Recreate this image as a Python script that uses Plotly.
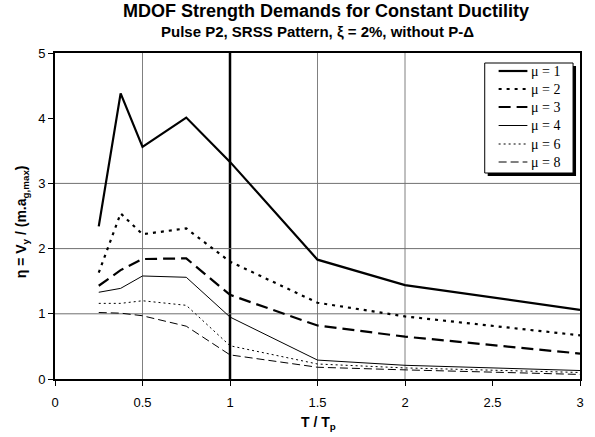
import plotly.graph_objects as go

T = [0.25, 0.375, 0.5, 0.75, 1.0, 1.5, 2.0, 3.0]
mu1 = [2.34, 4.38, 3.56, 4.01, 3.33, 1.83, 1.44, 1.06]
mu2 = [1.63, 2.54, 2.22, 2.31, 1.80, 1.17, 0.96, 0.67]
mu3 = [1.43, 1.67, 1.84, 1.85, 1.29, 0.82, 0.65, 0.39]
mu4 = [1.33, 1.39, 1.58, 1.56, 0.95, 0.29, 0.21, 0.13]
mu6 = [1.16, 1.16, 1.20, 1.13, 0.51, 0.23, 0.17, 0.10]
mu8 = [1.02, 1.01, 0.97, 0.81, 0.37, 0.18, 0.14, 0.07]
labels = ["μ = 1", "μ = 2", "μ = 3", "μ = 4", "μ = 6", "μ = 8"]
x_ticks = [0, 0.5, 1, 1.5, 2, 2.5, 3]
x_tick_text = ["0", "0.5", "1", "1.5", "2", "2.5", "3"]
y_ticks = [0, 1, 2, 3, 4, 5]
series = [mu1, mu2, mu3, mu4, mu6, mu8]
styles = [
    dict(width=2.2, dash="solid"),
    dict(width=2.2, dash="3px,5px"),
    dict(width=2.2, dash="12px,6px"),
    dict(width=1, dash="solid"),
    dict(width=1, dash="2px,3px"),
    dict(width=1, dash="8px,4px"),
]

# pixel -> paper helpers for plot area (x: 55..584, y: 53..379)
L, R, TOP, BOT = 55, 584, 53, 379
def px(p):
    return (p - L) / (R - L)
def py(p):
    return (BOT - p) / (BOT - TOP)

fig = go.Figure()
for lab, ys, st in zip(labels, series, styles):
    fig.add_trace(go.Scatter(x=T, y=ys, mode="lines", name=lab, showlegend=False,
                             line=dict(color="black", **st)))

shapes = []
for xv in [0.5, 1.5, 2.0]:
    shapes.append(dict(type="line", xref="x", yref="paper", x0=xv, x1=xv, y0=0, y1=1,
                       line=dict(color="#808080", width=1), layer="below"))
shapes.append(dict(type="line", xref="x", yref="paper", x0=1, x1=1, y0=0, y1=1,
                   line=dict(color="black", width=2.5), layer="below"))
for yv in [1, 2, 3]:
    shapes.append(dict(type="line", xref="paper", yref="y", x0=0, x1=1, y0=yv, y1=yv,
                       line=dict(color="#707070", width=1), layer="below"))

# manual legend: shadow, box, sample lines, labels
shapes.append(dict(type="rect", xref="paper", yref="paper",
                   x0=px(491), x1=px(580), y0=py(176), y1=py(66),
                   fillcolor="black", line=dict(width=0), layer="above"))
shapes.append(dict(type="rect", xref="paper", yref="paper",
                   x0=px(488), x1=px(577), y0=py(173), y1=py(63),
                   fillcolor="white", line=dict(color="black", width=1), layer="above"))
annotations = []
row_y = [71, 89, 107, 125.5, 144, 162]
for lab, st, ry in zip(labels, styles, row_y):
    shapes.append(dict(type="line", xref="paper", yref="paper",
                       x0=px(502), x1=px(531), y0=py(ry), y1=py(ry),
                       line=dict(color="black", **st), layer="above"))
    annotations.append(dict(text=lab, xref="paper", yref="paper", x=px(533), y=py(ry),
                            showarrow=False, xanchor="left", yanchor="middle",
                            font=dict(family="Liberation Serif, Times New Roman", size=14, color="black")))

annotations += [
    dict(text="<b>MDOF Strength Demands for Constant Ductility</b>", xref="paper", yref="paper",
         x=px(328), y=py(11), showarrow=False, xanchor="center", yanchor="middle",
         font=dict(size=18, family="Liberation Sans, Arial", color="black")),
    dict(text="<b>Pulse P2, SRSS Pattern, ξ = 2%, without P-Δ</b>", xref="paper", yref="paper",
         x=px(320), y=py(31.5), showarrow=False, xanchor="center", yanchor="middle",
         font=dict(size=15, family="Liberation Sans, Arial", color="black")),
    dict(text="<b>η = V<sub>y</sub> / (m.a<sub>g,max</sub>)</b>", xref="paper", yref="paper",
         x=px(22), y=py(222), showarrow=False, xanchor="center", yanchor="middle", textangle=-90,
         font=dict(size=14, family="Liberation Sans, Arial", color="black")),
    dict(text="<b>T / T<sub>p</sub></b>", xref="paper", yref="paper",
         x=px(321), y=py(423), showarrow=False, xanchor="center", yanchor="middle",
         font=dict(size=14, family="Liberation Sans, Arial", color="black")),
]

tickfont = dict(family="Liberation Sans, Arial", size=13, color="black")
fig.update_layout(
    width=595, height=437,
    margin=dict(l=L, r=595 - R, t=TOP, b=437 - BOT),
    paper_bgcolor="white", plot_bgcolor="white",
    font=dict(family="Liberation Sans, Arial", size=13, color="black"),
    showlegend=False,
    shapes=shapes,
    annotations=annotations,
    xaxis=dict(range=[0, 3], tickvals=x_ticks, ticktext=x_tick_text, tickfont=tickfont,
               showgrid=False, zeroline=False, showline=True, linecolor="black", linewidth=2, mirror=True,
               ticks="outside", ticklen=5, tickcolor="black", ticklabelstandoff=5),
    yaxis=dict(range=[0, 5], tickvals=y_ticks, tickfont=tickfont, showgrid=False, zeroline=False,
               showline=True, linecolor="black", linewidth=2, mirror=True,
               ticks="outside", ticklen=5, tickcolor="black"),
)
fig.write_html("out.html")
